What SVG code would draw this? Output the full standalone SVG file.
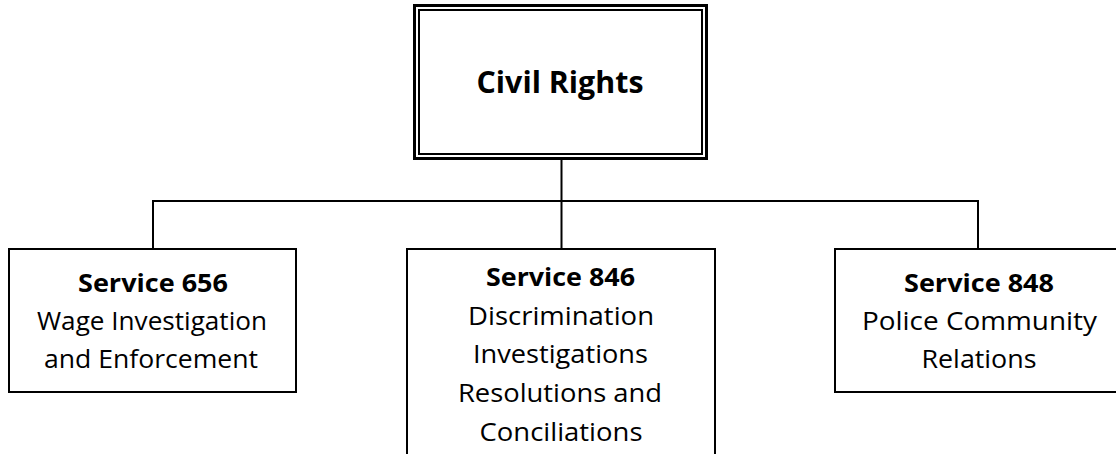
<svg xmlns="http://www.w3.org/2000/svg" width="1116" height="454" viewBox="0 0 1116 454">
<style>
.box{fill:#fff;stroke:#000;stroke-width:2}
.ln{fill:none;stroke:#000;stroke-width:2}
.t{font-family:"Open Sans","Liberation Sans",sans-serif;font-size:25px;fill:#000;text-anchor:middle}
.b{font-weight:bold}
</style>
<rect width="1116" height="454" fill="#fff"/>
<g id="connectors">
<path class="ln" d="M561.5 160V249M153 249V201H978V249"/>
</g>
<g id="civil-rights">
<rect x="414.5" y="5.5" width="292" height="153" fill="#fff" stroke="#000" stroke-width="3"/>
<rect x="419" y="10" width="283" height="144" fill="none" stroke="#000" stroke-width="2"/>
<text class="t b" x="560" y="93" style="font-size:30px" textLength="167" lengthAdjust="spacingAndGlyphs">Civil Rights</text>
</g>
<g id="service-656">
<rect class="box" x="9" y="249" width="287" height="143"/>
<text class="t b" x="153" y="292" textLength="150" lengthAdjust="spacingAndGlyphs">Service 656</text>
<text class="t" x="152" y="330" textLength="230" lengthAdjust="spacingAndGlyphs">Wage Investigation</text>
<text class="t" x="151" y="368" textLength="214" lengthAdjust="spacingAndGlyphs">and Enforcement</text>
</g>
<g id="service-846">
<rect class="box" x="407" y="249" width="308" height="220"/>
<text class="t b" x="560.5" y="286" textLength="149" lengthAdjust="spacingAndGlyphs">Service 846</text>
<text class="t" x="561" y="325" textLength="186" lengthAdjust="spacingAndGlyphs">Discrimination</text>
<text class="t" x="560.5" y="363" textLength="175" lengthAdjust="spacingAndGlyphs">Investigations</text>
<text class="t" x="560" y="402" textLength="204" lengthAdjust="spacingAndGlyphs">Resolutions and</text>
<text class="t" x="561" y="441" textLength="163" lengthAdjust="spacingAndGlyphs">Conciliations</text>
</g>
<g id="service-848">
<rect class="box" x="835" y="249" width="289" height="143"/>
<text class="t b" x="979" y="292" textLength="150" lengthAdjust="spacingAndGlyphs">Service 848</text>
<text class="t" x="979.5" y="330" textLength="235" lengthAdjust="spacingAndGlyphs">Police Community</text>
<text class="t" x="979" y="368" textLength="115" lengthAdjust="spacingAndGlyphs">Relations</text>
</g>
</svg>
